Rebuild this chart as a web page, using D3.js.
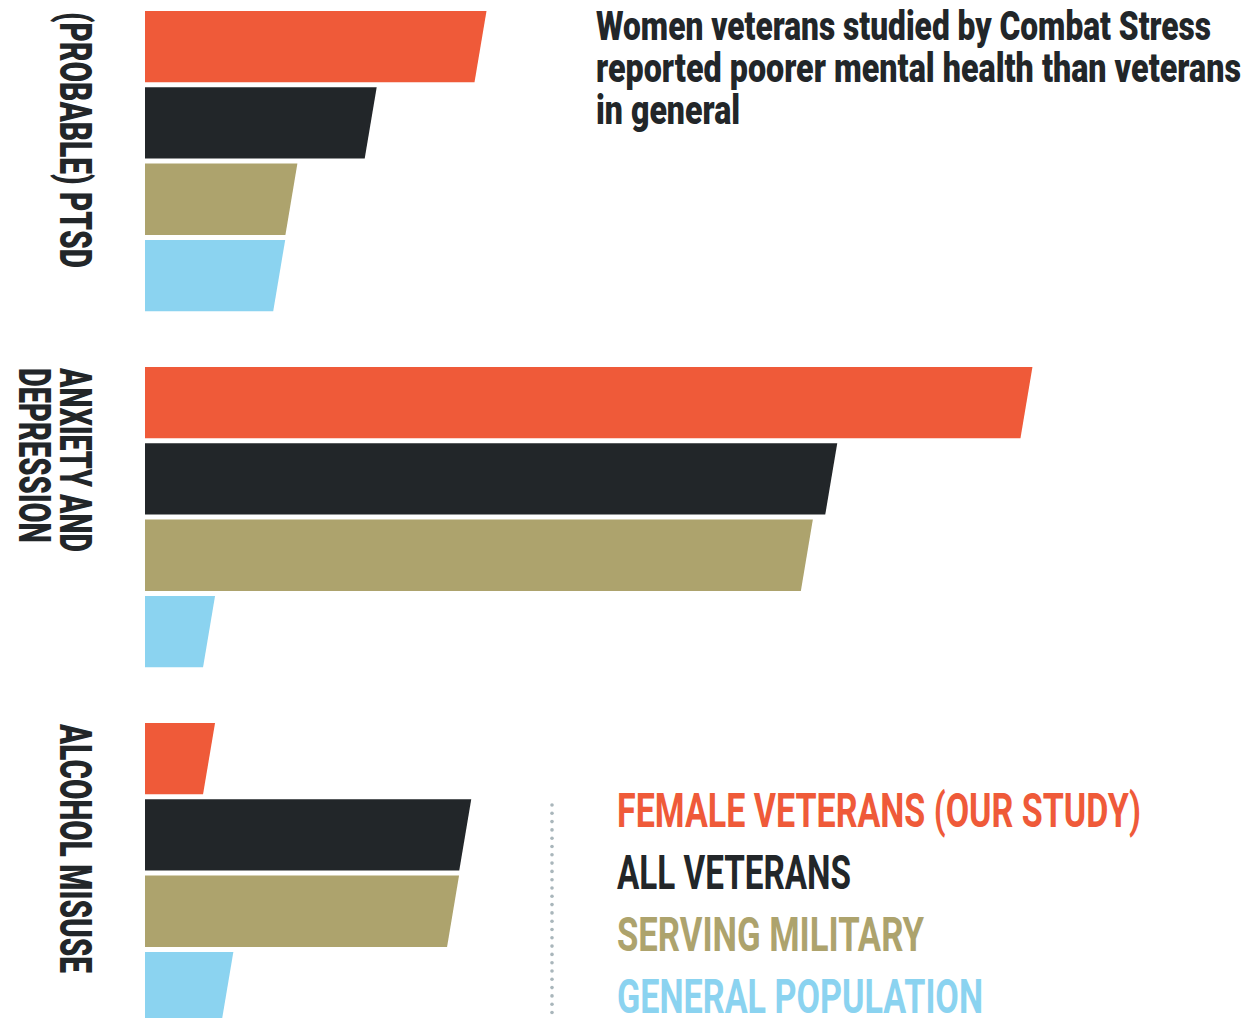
<!DOCTYPE html>
<html>
<head>
<meta charset="utf-8">
<script src="https://cdn.jsdelivr.net/npm/d3@7"></script>
<style>
  html, body { margin: 0; padding: 0; background: #ffffff; }
  svg { display: block; }
  text { font-family: Roboto, "Noto Sans", "DejaVu Sans", sans-serif; }
</style>
</head>
<body>
<svg id="chart" width="1245" height="1018"></svg>
<script>
// Measures compared across groups
const groups = ["(PROBABLE) PTSD", "ANXIETY AND DEPRESSION", "ALCOHOL MISUSE"];
const groupLabelLines = [["(PROBABLE) PTSD"], ["ANXIETY AND", "DEPRESSION"], ["ALCOHOL MISUSE"]];

// Populations (series), in drawing order
const series = ["FEMALE VETERANS (OUR STUDY)", "ALL VETERANS", "SERVING MILITARY", "GENERAL POPULATION"];
const seriesColors = ["#ef5a39", "#222629", "#ada36d", "#8bd3f0"];

// Prevalence (%) per group, one array per population
const femaleVeterans    = [11.0, 28.9, 2.1];
const allVeterans       = [7.4, 22.5, 10.5];
const servingMilitary   = [4.8, 21.7, 10.1];
const generalPopulation = [4.4, 2.1, 2.7];
const seriesValues = [femaleVeterans, allVeterans, servingMilitary, generalPopulation];

const titleLines = [
  "Women veterans studied by Combat Stress",
  "reported poorer mental health than veterans",
  "in general"
];

const svg = d3.select("#chart");

// ---- scales ----
const x = d3.scaleLinear().domain([0, 30]).range([145, 1060]);
const groupScale = d3.scaleBand().domain(groups).range([11, 11 + 356 * 3]).paddingInner(0);
const seriesScale = d3.scaleBand().domain(series).range([0, 300.2]).paddingInner(5 / 76.3).paddingOuter(0);

const slant = 12; // horizontal lean of each bar's right end

const rows = [];
groups.forEach((g, gi) => {
  series.forEach((s, si) => {
    rows.push({ group: g, series: s, value: seriesValues[si][gi], color: seriesColors[si] });
  });
});

// ---- bars: right end cut on a slant ----
svg.append("g").selectAll("path")
  .data(rows)
  .join("path")
  .attr("fill", d => d.color)
  .attr("d", d => {
    const y0 = groupScale(d.group) + seriesScale(d.series);
    const y1 = y0 + seriesScale.bandwidth();
    const x0 = x(0);
    const xe = x(d.value);
    return `M${x0},${y0}L${xe + slant / 2},${y0}L${xe - slant / 2},${y1}L${x0},${y1}Z`;
  });

// ---- rotated group labels ----
const labelLengths = [[256], [184, 175], [249]];
const labelG = svg.append("g").selectAll("g")
  .data(groups)
  .join("g")
  .attr("transform", d => `translate(60,${groupScale(d) + 1}) rotate(90)`);

labelG.each(function (d, gi) {
  d3.select(this).selectAll("text")
    .data(groupLabelLines[gi])
    .join("text")
    .attr("x", 0)
    .attr("y", (t, i) => i * 41)
    .attr("font-size", 43.5)
    .attr("font-weight", 900)
    .attr("fill", "#222629")
    .attr("textLength", (t, i) => labelLengths[gi][i])
    .attr("lengthAdjust", "spacingAndGlyphs")
    .text(t => t);
});

// ---- title ----
const titleLengths = [615, 645, 144];
svg.append("g").selectAll("text")
  .data(titleLines)
  .join("text")
  .attr("x", 596)
  .attr("y", (d, i) => 39.5 + i * 42.2)
  .attr("font-size", 41.5)
  .attr("font-weight", 900)
  .attr("fill", "#222629")
  .attr("textLength", (d, i) => titleLengths[i])
  .attr("lengthAdjust", "spacingAndGlyphs")
  .text(d => d);

// ---- legend ----
const legendX = 617;
const legendY = d3.scalePoint().domain(series).range([826.7, 1013.3]);
const legendLengths = [524, 234, 307, 366];

// dotted rule to the left of the legend
svg.append("g").selectAll("circle")
  .data(d3.range(805, 1025, 8.3))
  .join("circle")
  .attr("cx", 552)
  .attr("cy", d => d)
  .attr("r", 1.8)
  .attr("fill", "#a9b6bb");

svg.append("g").selectAll("text")
  .data(series)
  .join("text")
  .attr("x", legendX)
  .attr("y", d => legendY(d))
  .attr("font-size", 48)
  .attr("font-weight", 700)
  .attr("fill", (d, i) => seriesColors[i])
  .attr("textLength", (d, i) => legendLengths[i])
  .attr("lengthAdjust", "spacingAndGlyphs")
  .text(d => d);
</script>
</body>
</html>
